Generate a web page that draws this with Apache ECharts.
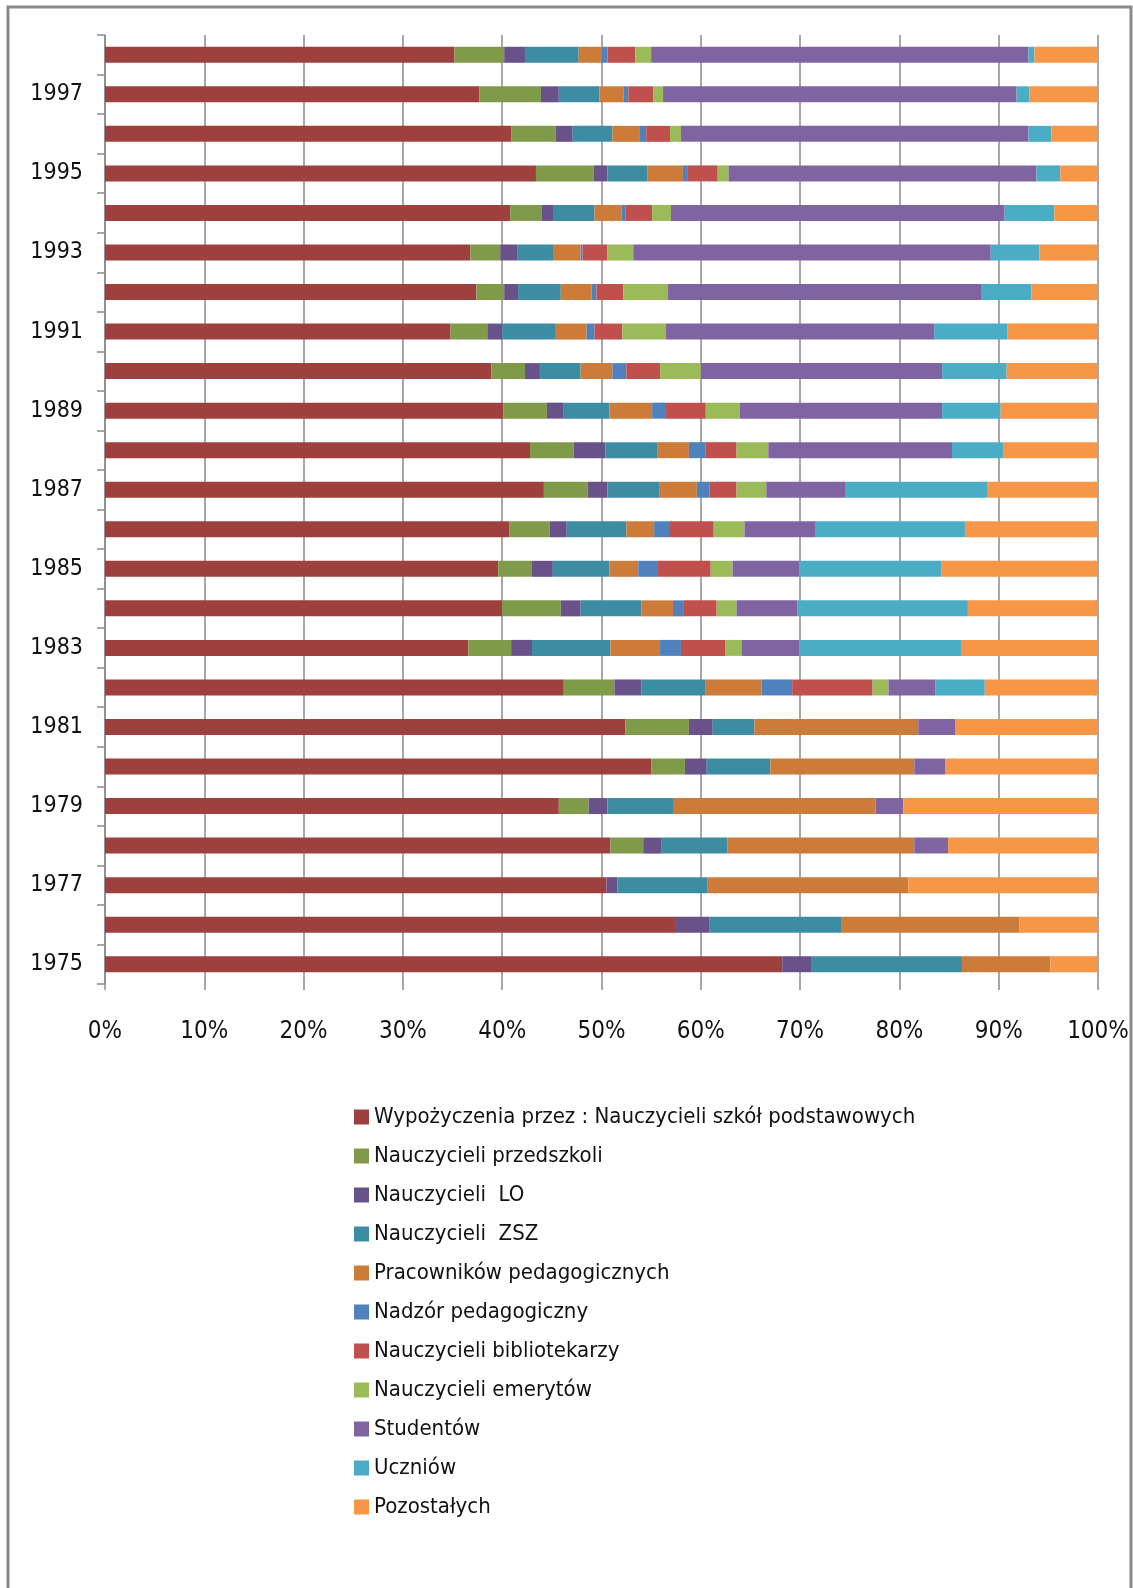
<!DOCTYPE html>
<html>
<head>
<meta charset="utf-8">
<script src="https://cdn.jsdelivr.net/npm/echarts@6/dist/echarts.min.js"></script>
<style>
html,body{margin:0;padding:0;background:#fff;}
#chart{width:1133px;height:1588px;}
</style>
</head>
<body>
<div id="chart"></div>
<script>
var years = ['1975','1976','1977','1978','1979','1980','1981','1982','1983','1984','1985','1986','1987','1988','1989','1990','1991','1992','1993','1994','1995','1996','1997','1998'];
var xTicks = [0,10,20,30,40,50,60,70,80,90,100];
var seriesNames = ['Wypożyczenia przez : Nauczycieli szkół podstawowych','Nauczycieli przedszkoli','Nauczycieli  LO','Nauczycieli  ZSZ','Pracowników pedagogicznych','Nadzór pedagogiczny','Nauczycieli bibliotekarzy','Nauczycieli emerytów','Studentów','Uczniów','Pozostałych'];
var sp    = [68.2,57.5,50.5,50.9,45.7,55.0,52.4,46.2,36.6,40.0,39.6,40.7,44.2,42.8,40.1,38.9,34.8,37.4,36.8,40.8,43.4,40.9,37.7,35.2];
var przed = [0,0,0,3.3,3.0,3.4,6.4,5.1,4.3,5.9,3.4,4.1,4.4,4.4,4.4,3.4,3.7,2.8,3.0,3.2,5.8,4.5,6.2,5.0];
var lo    = [2.9,3.4,1.1,1.8,1.9,2.2,2.4,2.7,2.1,2.0,2.1,1.7,2.0,3.2,1.7,1.5,1.5,1.4,1.7,1.2,1.4,1.7,1.8,2.1];
var zsz   = [15.2,13.3,9.1,6.7,6.6,6.4,4.2,6.5,7.9,6.1,5.7,6.0,5.2,5.2,4.6,4.1,5.4,4.3,3.7,4.1,4.0,4.0,4.1,5.4];
var prac  = [8.9,17.9,20.2,18.8,20.4,14.5,16.5,5.6,5.0,3.2,2.9,2.8,3.8,3.2,4.3,3.2,3.1,3.1,2.7,2.7,3.6,2.7,2.4,2.3];
var nadzor= [0,0,0,0,0,0,0,3.1,2.1,1.1,1.9,1.5,1.3,1.7,1.4,1.4,0.8,0.5,0.2,0.4,0.5,0.7,0.5,0.6];
var bibl  = [0,0,0,0,0,0,0,8.1,4.5,3.3,5.4,4.5,2.7,3.1,4.0,3.4,2.8,2.7,2.5,2.7,3.0,2.4,2.5,2.8];
var emer  = [0,0,0,0,0,0,0,1.6,1.6,2.0,2.2,3.1,3.0,3.2,3.4,4.1,4.4,4.5,2.6,1.9,1.1,1.1,1.0,1.6];
var stud  = [0,0,0,3.4,2.8,3.1,3.7,4.7,5.8,6.1,6.7,7.1,8.0,18.5,20.4,24.3,27.0,31.6,36.0,33.6,31.0,35.0,35.6,38.0];
var ucz   = [0,0,0,0,0,0,0,5.0,16.3,17.2,14.3,15.1,14.3,5.2,5.9,6.5,7.4,5.0,4.9,5.0,2.4,2.3,1.3,0.6];
var poz   = [4.8,7.9,19.1,15.1,19.6,15.4,14.4,11.4,13.8,13.1,15.8,13.4,11.1,9.5,9.8,9.2,9.1,6.7,5.9,4.4,3.8,4.7,6.9,6.4];

var allData = [sp,przed,lo,zsz,prac,nadzor,bibl,emer,stud,ucz,poz];
var colors = ['#9E413E','#7F9A48','#69518A','#3C8DA3','#CC7B38','#4F81BD','#C0504D','#9BBB59','#8064A2','#4BACC6','#F79646'];
var FONT = "'Liberation Sans Narrow','DejaVu Sans Condensed','Arial Narrow',sans-serif";

var series = seriesNames.map(function(n,i){
  return {
    name:n, type:'bar', stack:'total', barWidth:16,
    data: allData[i],
    itemStyle:{color:colors[i]},
    emphasis:{disabled:true}
  };
});

var chart = echarts.init(document.getElementById('chart'), null, {renderer:'canvas'});
chart.setOption({
  animation:false,
  color:colors,
  graphic:[{
    type:'rect', shape:{x:8,y:7,width:1123,height:1620},
    style:{fill:'none',stroke:'#8a8a8a',lineWidth:3}, silent:true
  }],
  grid:{left:105,right:35,top:35,bottom:604,containLabel:false},
  xAxis:{
    type:'value', min:xTicks[0], max:xTicks[xTicks.length-1], interval:10,
    axisLine:{show:false},
    axisTick:{show:true,length:6,lineStyle:{color:'#8a8a8a',width:1.5}},
    splitLine:{show:true,lineStyle:{color:'#8a8a8a',width:1.5}},
    axisLabel:{formatter:'{value}%',fontFamily:FONT,fontSize:24,color:'#111',margin:36}
  },
  yAxis:{
    type:'category', data:years,
    axisLine:{show:true,lineStyle:{color:'#8a8a8a',width:1.5}},
    axisTick:{show:true,length:8,interval:0,lineStyle:{color:'#8a8a8a',width:1.5}},
    axisLabel:{interval:function(idx){return idx%2===0;},fontFamily:FONT,fontSize:23,color:'#111',margin:22},
    splitLine:{show:false}
  },
  legend:{
    orient:'vertical', left:349, top:1098,
    itemWidth:15, itemHeight:15, itemGap:11, icon:'rect',
    textStyle:{fontFamily:FONT,fontSize:22,lineHeight:28,color:'#111'},
    data:seriesNames
  },
  series:series
});
</script>
</body>
</html>
